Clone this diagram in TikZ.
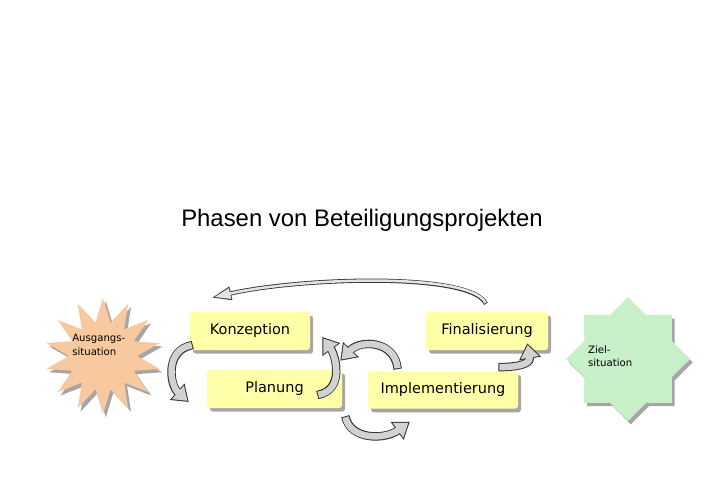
\documentclass[tikz,border=0pt]{standalone}
\usepackage{fontspec}
\setmainfont{DejaVu Sans}
\newfontfamily\titlefont{Liberation Sans}
\usetikzlibrary{calc,arrows.meta,shapes.geometric,shadows}
\definecolor{phaseyellow}{HTML}{FFFFA8}
\definecolor{startorange}{HTML}{F8C89E}
\definecolor{goalgreen}{HTML}{C8F0C8}
\definecolor{ribbongray}{HTML}{D2D2D2}
\tikzset{
  phase/.style={rectangle,rounded corners=2pt,fill=phaseyellow,minimum height=0.95cm,inner sep=0,
                font=\fontsize{10.3}{12}\selectfont,
                drop shadow={shadow xshift=2.2pt,shadow yshift=-2.6pt,opacity=0.35,fill=black}},
  sitlabel/.style={align=left,inner sep=0,font=\fontsize{7.2}{9.6}\selectfont},
  % the two situations are stars, the start one spiky, the goal one with eight points
  startstar/.style={star,star points=14,star point ratio=1.7,minimum size=2.9cm,inner sep=0,fill=startorange,
                    drop shadow={shadow xshift=2pt,shadow yshift=-2.4pt,opacity=0.35,fill=black}},
  goalstar/.style={star,star points=8,star point ratio=1.31,minimum size=3.1cm,inner sep=0,fill=goalgreen,
                   drop shadow={shadow xshift=2pt,shadow yshift=-2.4pt,opacity=0.35,fill=black}},
  heading/.style={font=\titlefont\fontsize{17}{20}\selectfont},
  % ribbon arrows: dark outline, grey inside
  ribbon/.style={line width=6pt,draw=black!80,-{Triangle[length=11pt,width=15pt]},
                 postaction={draw=ribbongray,line width=4.6pt,shorten <=0.7pt,shorten >=1.24pt,
                             -{Triangle[length=9.06pt,width=12.35pt]}}},
  thinribbon/.style={line width=3pt,draw=black!80,-{Triangle[length=14pt,width=9pt]},
                     postaction={draw=ribbongray!60!white,line width=1.8pt,shorten <=0.6pt,shorten >=1.96pt,
                                 -{Triangle[length=11.44pt,width=7.35pt]}}},
}
\begin{document}
\begin{tikzpicture}[x=0.025cm,y=-0.025cm]
  \useasboundingbox (0,0) rectangle (720,503);
  \node[heading] (title) at (362,220) {Phasen von Beteiligungsprojekten};
  % the four phases
  \node[phase,minimum width=3cm] (konz) at (250,331) {Konzeption};
  \node[phase,minimum width=3.375cm] (plan) at (274.5,389) {Planung};
  \node[phase,minimum width=3.05cm] (final) at (487,331) {Finalisierung};
  \node[phase,minimum width=3.75cm,minimum height=0.93cm] (impl) at (443,390) {Implementierung};
  % start and goal
  \node[startstar,label={[sitlabel,xshift=-3pt,yshift=8pt]center:Ausgangs-\\situation}] (start) at (103,356) {};
  \node[goalstar,label={[sitlabel,xshift=-12.7pt,yshift=2pt]center:Ziel-\\situation}] (goal) at (628,359) {};
  % arrows between the phases
  \draw[thinribbon] ($(final.north)+(-1,-8)$) .. controls +(-16,-32) and +(88,-20) .. ($(konz.north west)+(22,-14)$);
  \draw[ribbon] ($(konz.west)+(3,14)$) .. controls +(-28,5) and +(-19,-17) .. ($(plan.west)+(-18,13)$);
  \draw[ribbon] ($(plan.east)+(-25,6)$) .. controls +(28,-5) and +(13,18) .. ($(konz.east)+(12,6)$);
  \draw[ribbon] ($(impl.north west)+(30,-2)$) .. controls +(-3,-29) and +(20,-21) .. ($(plan.north east)+(-2,-9)$);
  \draw[ribbon] ($(plan.south east)+(3,8)$) .. controls +(5,24) and +(-25,18) .. ($(impl.south west)+(42,13)$);
  \draw[ribbon] ($(impl.north east)+(-20,-4)$) .. controls +(30,0) and +(3,17) .. ($(final.south east)+(-21,-7)$);
\end{tikzpicture}
\end{document}
